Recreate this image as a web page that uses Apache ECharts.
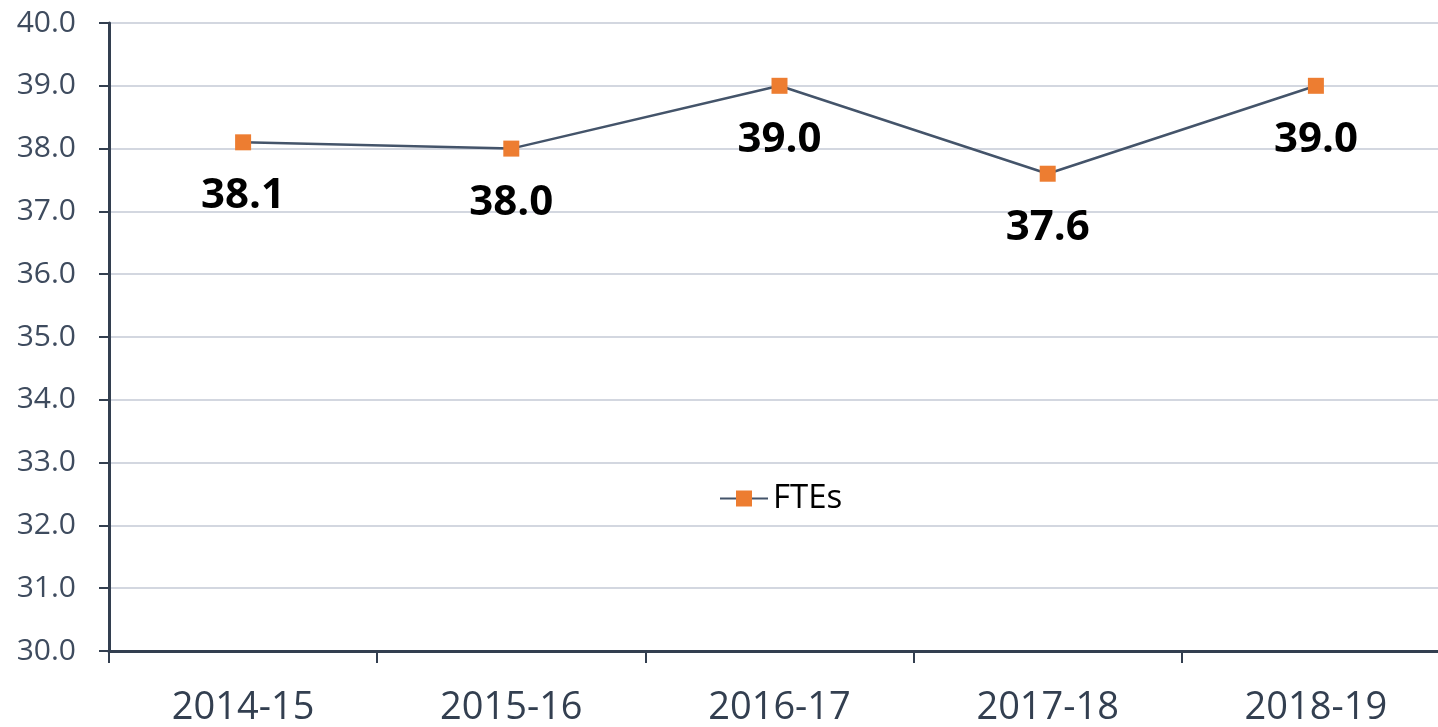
<!DOCTYPE html>
<html>
<head>
<meta charset="utf-8">
<script src="https://cdn.jsdelivr.net/npm/echarts@6/dist/echarts.min.js"></script>
<style>
html,body{margin:0;padding:0;background:#fff;overflow:hidden;}
#chart{width:1450px;height:727px;}
</style>
</head>
<body>
<div id="chart"></div>
<script>
const categories = ['2014-15', '2015-16', '2016-17', '2017-18', '2018-19'];
const ftes = [38.1, 38.0, 39.0, 37.6, 39.0];
const seriesName = 'FTEs';

const chart = echarts.init(document.getElementById('chart'));
const font = '"Open Sans", "Noto Sans", sans-serif';
chart.setOption({
  animation: false,
  backgroundColor: '#ffffff',
  grid: { left: 109, top: 23, bottom: 76, right: 0 },
  legend: {
    data: [seriesName],
    left: 714, top: 477,
    itemWidth: 48, itemHeight: 20, itemGap: 0,
    textStyle: { fontFamily: font, fontSize: 33, color: '#000000' }
  },
  xAxis: {
    type: 'category',
    data: categories,
    boundaryGap: true,
    axisLine: { lineStyle: { color: '#333F50', width: 3 } },
    axisTick: { show: true, length: 12, lineStyle: { color: '#333F50', width: 2 } },
    axisLabel: { fontFamily: font, fontSize: 38, color: '#333F50', margin: 38 },
    splitLine: { show: false }
  },
  yAxis: {
    type: 'value',
    min: 30, max: 40, interval: 1,
    axisLine: { show: true, lineStyle: { color: '#333F50', width: 3 } },
    axisTick: { show: true, length: 10, lineStyle: { color: '#333F50', width: 2 } },
    axisLabel: { fontFamily: font, fontSize: 30, color: '#3E4B5E', margin: 33,
      formatter: v => v.toFixed(1) },
    splitLine: { lineStyle: { color: '#C5CAD6', width: 1.5 } }
  },
  series: [{
    name: seriesName,
    type: 'line',
    data: ftes,
    symbol: 'rect',
    symbolSize: 16,
    lineStyle: { color: '#44546A', width: 2.5 },
    itemStyle: { color: '#ED7D31' },
    label: {
      show: true, position: 'bottom', distance: 25,
      fontFamily: font, fontSize: 42, fontWeight: 'bold', color: '#000000',
      formatter: p => p.value.toFixed(1)
    }
  }]
});
</script>
</body>
</html>
